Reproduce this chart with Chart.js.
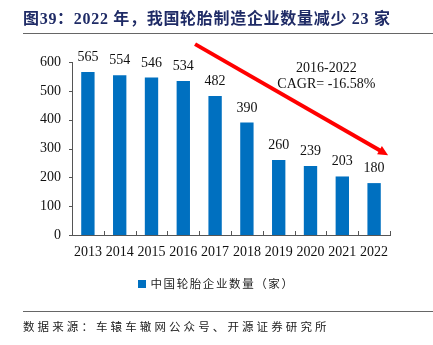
<!DOCTYPE html>
<html>
<head>
<meta charset="utf-8">
<script src="https://cdn.jsdelivr.net/npm/chart.js@4/dist/chart.umd.min.js"></script>
<style>
  html, body { margin: 0; padding: 0; background: #fff; }
  #wrap { position: relative; width: 433px; height: 345px; overflow: hidden; }
  #c { position: absolute; left: 0; top: 0; }
  .title { position: absolute; left: 23px; top: 5px; font: bold 16px "Liberation Serif", "Noto Sans CJK SC", serif; color: #1F2B66; white-space: nowrap; letter-spacing: 0.7px; }
  .rule { position: absolute; left: 23px; right: 0; height: 1px; background: #666; }
  .src { position: absolute; left: 23px; top: 318px; font: 11.5px "Noto Sans CJK SC", sans-serif; color: #222; letter-spacing: 3.1px; white-space: nowrap; }
  .legend { position: absolute; left: 0; width: 433px; top: 275px; text-align: center; font: 11.5px "Noto Sans CJK SC", sans-serif; color: #222; letter-spacing: 1.6px; }
  .legend i { display: inline-block; width: 8px; height: 8px; background: #0070C0; margin-right: 4px; vertical-align: 0px; }
</style>
</head>
<body>
<div id="wrap">
  <canvas id="c" width="433" height="345"></canvas>
  <div class="title">图39：2022 年，我国轮胎制造企业数量减少 23 家</div>
  <div class="rule" style="top:33px"></div>
  <div class="legend"><i></i>中国轮胎企业数量（家）</div>
  <div class="rule" style="top:311px"></div>
  <div class="src">数据来源：车辕车辙网公众号、开源证券研究所</div>
</div>
<script>
const years = ['2013', '2014', '2015', '2016', '2017', '2018', '2019', '2020', '2021', '2022'];
const tireMakers = [565, 554, 546, 534, 482, 390, 260, 239, 203, 180];
const yTicks = [0, 100, 200, 300, 400, 500, 600];
const cagrLines = ['2016-2022', 'CAGR= -16.58%'];
// trend arrow ends, in (category index, value) units
const arrowFrom = [3.37, 662];
const arrowTo = [9.44, 277];
const cagrAnchor = [7.5, 579];

const axisColor = '#555';
const serif = '"Liberation Serif", "Times New Roman", serif';

const decor = {
  id: 'decor',
  afterDatasetsDraw(chart) {
    const { ctx, scales: { x, y }, chartArea: a } = chart;
    ctx.save();
    // tick marks: outward on the value axis, inward on the category axis
    ctx.strokeStyle = axisColor;
    ctx.lineWidth = 1;
    ctx.beginPath();
    yTicks.forEach(v => {
      const py = Math.round(y.getPixelForValue(v)) + 0.5;
      ctx.moveTo(a.left - 3, py); ctx.lineTo(a.left, py);
    });
    for (let i = 0; i <= years.length; i++) {
      const px = Math.round(x.getPixelForValue(i - 0.5)) + 0.5;
      ctx.moveTo(px, a.bottom); ctx.lineTo(px, a.bottom - 4);
    }
    ctx.stroke();

    // value labels
    ctx.fillStyle = '#111';
    ctx.font = '14px ' + serif;
    ctx.textAlign = 'center';
    ctx.textBaseline = 'alphabetic';
    const meta = chart.getDatasetMeta(0);
    meta.data.forEach((bar, i) => {
      ctx.fillText(String(tireMakers[i]), bar.x, bar.y - 11);
    });

    // CAGR note
    const cx = x.getPixelForValue(cagrAnchor[0]);
    const cy = y.getPixelForValue(cagrAnchor[1]);
    ctx.textBaseline = 'middle';
    ctx.fillText(cagrLines[0], cx, cy);
    ctx.fillText(cagrLines[1], cx, cy + 16);

    // trend arrow
    const x0 = x.getPixelForValue(arrowFrom[0]), y0 = y.getPixelForValue(arrowFrom[1]);
    const x1 = x.getPixelForValue(arrowTo[0]), y1 = y.getPixelForValue(arrowTo[1]);
    const ang = Math.atan2(y1 - y0, x1 - x0);
    const head = 11;
    ctx.strokeStyle = '#FF0000';
    ctx.fillStyle = '#FF0000';
    ctx.lineWidth = 4;
    ctx.beginPath();
    ctx.moveTo(x0, y0);
    ctx.lineTo(x1 - Math.cos(ang) * head * 0.8, y1 - Math.sin(ang) * head * 0.8);
    ctx.stroke();
    ctx.beginPath();
    ctx.moveTo(x1, y1);
    ctx.lineTo(x1 - head * Math.cos(ang - 0.45), y1 - head * Math.sin(ang - 0.45));
    ctx.lineTo(x1 - head * Math.cos(ang + 0.45), y1 - head * Math.sin(ang + 0.45));
    ctx.closePath();
    ctx.fill();
    ctx.restore();
  }
};

new Chart(document.getElementById('c'), {
  type: 'bar',
  data: {
    labels: years,
    datasets: [{
      label: '中国轮胎企业数量（家）',
      data: tireMakers,
      backgroundColor: '#0070C0',
      barPercentage: 0.42,
      categoryPercentage: 1
    }]
  },
  options: {
    responsive: false,
    animation: false,
    devicePixelRatio: 1,
    layout: { padding: { top: 62, left: 22, right: 43, bottom: 0 } },
    plugins: { legend: { display: false }, tooltip: { enabled: false }, title: { display: false } },
    scales: {
      x: {
        grid: { display: false, drawTicks: false },
        border: { display: true, color: axisColor, width: 1 },
        ticks: { color: '#111', font: { family: serif, size: 14 }, padding: 9, maxRotation: 0, autoSkip: false },
        afterFit(s) { s.height = 110; }
      },
      y: {
        min: 0, max: 600,
        grid: { display: false, drawTicks: false },
        border: { display: true, color: axisColor, width: 1 },
        ticks: { stepSize: 100, color: '#111', font: { family: serif, size: 14 }, padding: 11 },
        afterFit(s) { s.width = 50; }
      }
    }
  },
  plugins: [decor]
});
</script>
</body>
</html>
